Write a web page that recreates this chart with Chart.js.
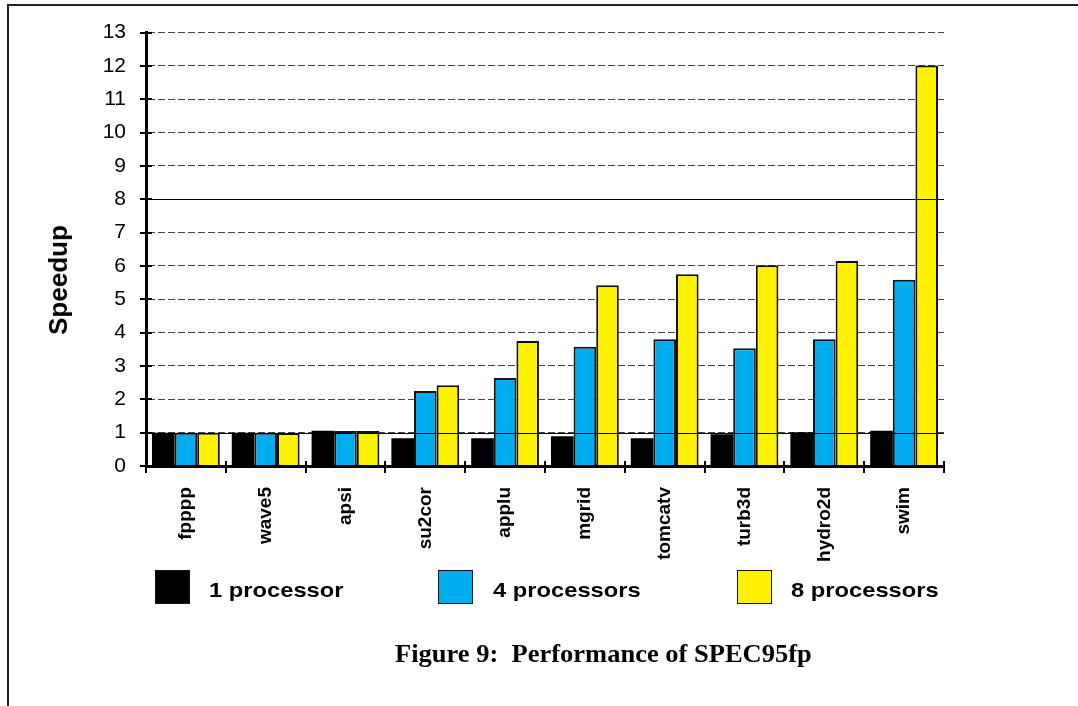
<!DOCTYPE html>
<html>
<head>
<meta charset="utf-8">
<script src="https://cdn.jsdelivr.net/npm/chart.js@4"></script>
<style>
    html, body { margin: 0; padding: 0; background: #fff; }
    #page { position: relative; width: 1078px; height: 706px; overflow: hidden; font-family: "Liberation Sans", Arial, sans-serif; }
    #frame { position: absolute; left: 7px; top: 4px; right: -10px; bottom: -10px; border-top: 2px solid #222; border-left: 2px solid #222; }
    #chart-box { position: absolute; left: 0; top: 0; width: 1078px; height: 706px; }
    .y-title { position: absolute; left: 58px; top: 280px; transform: translate(-50%, -50%) rotate(-90deg); font-weight: bold; font-size: 26px; line-height: 26px; white-space: nowrap; }
    .legend-box { position: absolute; width: 33px; height: 32px; border: 1px solid #111; }
    .legend-text { position: absolute; font-weight: bold; font-size: 21px; line-height: 21px; white-space: nowrap; transform: scaleX(1.13); transform-origin: left center; }
    .caption { position: absolute; left: 395px; top: 641px; font-family: "Liberation Serif", "Times New Roman", serif; font-weight: bold; font-size: 25px; line-height: 25px; white-space: nowrap; transform: scaleX(1.06); transform-origin: left center; }
</style>
</head>
<body>
<div id="page">
    <div id="frame"></div>
    <div id="chart-box"><canvas id="speedup-chart"></canvas></div>
    <div class="y-title">Speedup</div>
    <div id="legend"></div>
    <div class="caption">Figure 9:&nbsp; Performance of SPEC95fp</div>
</div>
<script>
'use strict';

// dados
const categories = ['fpppp', 'wave5', 'apsi', 'su2cor', 'applu', 'mgrid', 'tomcatv', 'turb3d', 'hydro2d', 'swim'];
const oneProc = [1.0, 1.0, 1.06, 0.83, 0.83, 0.89, 0.83, 0.95, 1.01, 1.06];
const fourProc = [1.0, 1.0, 1.05, 2.25, 2.64, 3.58, 3.80, 3.53, 3.80, 5.59];
const eightProc = [1.0, 0.98, 1.05, 2.42, 3.75, 5.42, 5.75, 6.02, 6.15, 12.01];
const seriesNames = ['1 processor', '4 processors', '8 processors'];
const seriesColors = ['#000000', '#00AEEF', '#FFF100'];
const yTicks = [0, 1, 2, 3, 4, 5, 6, 7, 8, 9, 10, 11, 12, 13];
const refLines = [1, 8];

// legenda em HTML (posições tiradas da figura)
const legendSlots = [
    { box: 155, text: 209 },
    { box: 438, text: 493 },
    { box: 737, text: 791 }
];
const legendNode = document.getElementById('legend');
legendNode.innerHTML = seriesNames.map((nome, i) => `
    <div class="legend-box" style="left:${legendSlots[i].box}px; top:570px; background:${seriesColors[i]};"></div>
    <div class="legend-text" style="left:${legendSlots[i].text}px; top:579px;">${nome}</div>
`).join('');

// marcas de escala que cruzam o eixo + linhas de referência por cima das barras
const axisMarks = {
    id: 'axisMarks',
    afterDatasetsDraw(chart) {
        const { ctx, scales: { x, y } } = chart;
        const line = (x1, y1, x2, y2) => { ctx.beginPath(); ctx.moveTo(x1, y1); ctx.lineTo(x2, y2); ctx.stroke(); };
        ctx.save();
        ctx.strokeStyle = '#000';
        ctx.lineWidth = 1;
        refLines.forEach(v => {
            const py = Math.round(y.getPixelForValue(v)) + 0.5;
            line(x.left, py, x.right, py);
        });
        ctx.lineWidth = 2;
        yTicks.forEach(v => {
            const py = Math.round(y.getPixelForValue(v));
            line(y.right - 6, py, y.right + 6, py);
        });
        for (let i = 0; i <= categories.length; i++) {
            const px = Math.round(x.getPixelForValue(i - 0.5));
            line(px, x.top - 5, px, x.top + 7);
        }
        ctx.restore();
    }
};

const datasets = [oneProc, fourProc, eightProc].map((valores, i) => ({
    label: seriesNames[i],
    data: valores,
    backgroundColor: seriesColors[i],
    borderColor: '#111',
    borderWidth: i === 0 ? 0 : 2,
    categoryPercentage: 0.85,
    barPercentage: 1.0
}));

const tickFont = { family: '"Liberation Sans", Arial, sans-serif', size: 21 };

new Chart(document.getElementById('speedup-chart'), {
    type: 'bar',
    data: { labels: categories, datasets },
    plugins: [axisMarks],
    options: {
        responsive: true,
        maintainAspectRatio: false,
        animation: false,
        layout: { padding: { left: 0, top: 32, right: 134, bottom: 0 } },
        plugins: { legend: { display: false }, tooltip: { enabled: false } },
        scales: {
            x: {
                grid: { display: true, drawOnChartArea: false, drawTicks: false },
                border: { display: true, color: '#000', width: 3, z: 1 },
                ticks: {
                    color: '#000',
                    font: { ...tickFont, size: 19, weight: 'bold' },
                    minRotation: 90, maxRotation: 90, autoSkip: false, padding: 21
                },
                afterFit: (scale) => { scale.height = 240; }
            },
            y: {
                min: 0, max: 13,
                grid: { color: '#444', lineWidth: 1, drawTicks: false },
                border: { display: true, color: '#000', width: 3, z: 1, dash: [7, 3] },
                ticks: { stepSize: 1, color: '#000', font: tickFont, padding: 20 },
                afterFit: (scale) => { scale.width = 146; }
            }
        }
    }
});
</script>
</body>
</html>
